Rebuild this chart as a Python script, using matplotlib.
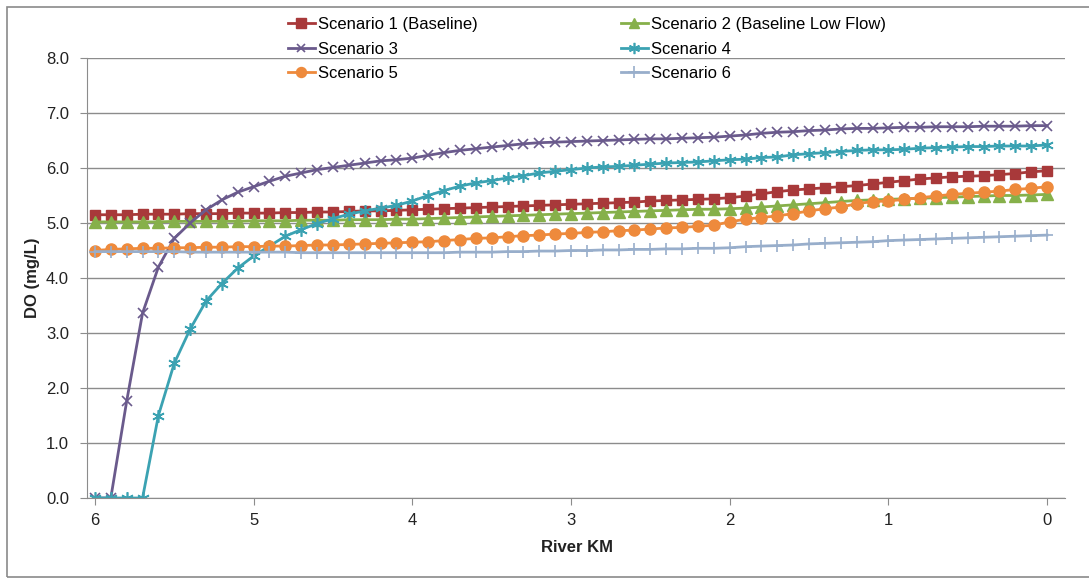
import matplotlib.pyplot as plt
from matplotlib.patches import Rectangle

plt.rcParams['font.family'] = ['Liberation Sans', 'DejaVu Sans']
plt.rcParams['font.size'] = 12

# river km, upstream (6) to downstream (0)
km = [6.0, 5.9, 5.8, 5.7, 5.6, 5.5, 5.4, 5.3, 5.2, 5.1,
      5.0, 4.9, 4.8, 4.7, 4.6, 4.5, 4.4, 4.3, 4.2, 4.1,
      4.0, 3.9, 3.8, 3.7, 3.6, 3.5, 3.4, 3.3, 3.2, 3.1,
      3.0, 2.9, 2.8, 2.7, 2.6, 2.5, 2.4, 2.3, 2.2, 2.1,
      2.0, 1.9, 1.8, 1.7, 1.6, 1.5, 1.4, 1.3, 1.2, 1.1,
      1.0, 0.9, 0.8, 0.7, 0.6, 0.5, 0.4, 0.3, 0.2, 0.1,
      0.0]

s1 = [5.15, 5.15, 5.15, 5.16, 5.16, 5.16, 5.17, 5.17, 5.17, 5.18,
      5.18, 5.18, 5.19, 5.19, 5.20, 5.20, 5.21, 5.22, 5.22, 5.23,
      5.24, 5.25, 5.26, 5.27, 5.28, 5.29, 5.30, 5.31, 5.32, 5.33,
      5.34, 5.35, 5.36, 5.37, 5.38, 5.40, 5.41, 5.42, 5.43, 5.44,
      5.46, 5.49, 5.53, 5.57, 5.60, 5.62, 5.64, 5.66, 5.68, 5.71,
      5.74, 5.77, 5.80, 5.82, 5.84, 5.85, 5.86, 5.88, 5.90, 5.93,
      5.95]
s2 = [5.02, 5.02, 5.02, 5.02, 5.02, 5.03, 5.03, 5.03, 5.03, 5.03,
      5.04, 5.04, 5.04, 5.05, 5.05, 5.05, 5.06, 5.06, 5.06, 5.07,
      5.07, 5.08, 5.09, 5.10, 5.11, 5.12, 5.13, 5.14, 5.15, 5.16,
      5.17, 5.18, 5.19, 5.20, 5.21, 5.22, 5.23, 5.24, 5.25, 5.25,
      5.26, 5.27, 5.29, 5.31, 5.33, 5.35, 5.37, 5.39, 5.41, 5.42,
      5.43, 5.44, 5.45, 5.46, 5.47, 5.48, 5.49, 5.50, 5.50, 5.51,
      5.52]
s3 = [0.00, 0.00, 1.76, 3.36, 4.20, 4.72, 5.00, 5.24, 5.42, 5.56,
      5.66, 5.76, 5.85, 5.91, 5.97, 6.01, 6.05, 6.09, 6.13, 6.15,
      6.18, 6.23, 6.28, 6.32, 6.35, 6.38, 6.41, 6.44, 6.46, 6.47,
      6.48, 6.49, 6.50, 6.51, 6.52, 6.53, 6.53, 6.54, 6.55, 6.56,
      6.58, 6.60, 6.63, 6.65, 6.66, 6.68, 6.69, 6.71, 6.72, 6.72,
      6.73, 6.74, 6.74, 6.75, 6.75, 6.75, 6.76, 6.76, 6.76, 6.77,
      6.77]
s4 = [0.00, 0.00, 0.00, 0.00, 1.50, 2.45, 3.07, 3.58, 3.90, 4.18,
      4.40, 4.58, 4.76, 4.88, 4.99, 5.08, 5.16, 5.22, 5.27, 5.32,
      5.40, 5.50, 5.59, 5.67, 5.73, 5.77, 5.82, 5.86, 5.91, 5.94,
      5.97, 6.00, 6.02, 6.03, 6.05, 6.07, 6.09, 6.10, 6.11, 6.13,
      6.15, 6.16, 6.19, 6.20, 6.24, 6.26, 6.28, 6.30, 6.32, 6.33,
      6.33, 6.34, 6.36, 6.37, 6.38, 6.39, 6.39, 6.40, 6.40, 6.40,
      6.42]
s5 = [4.50, 4.52, 4.53, 4.54, 4.54, 4.55, 4.55, 4.56, 4.56, 4.57,
      4.57, 4.58, 4.58, 4.59, 4.60, 4.60, 4.61, 4.62, 4.63, 4.64,
      4.65, 4.66, 4.68, 4.70, 4.72, 4.73, 4.75, 4.77, 4.78, 4.80,
      4.81, 4.83, 4.84, 4.86, 4.87, 4.89, 4.91, 4.92, 4.94, 4.96,
      5.02, 5.07, 5.10, 5.13, 5.17, 5.22, 5.26, 5.29, 5.35, 5.39,
      5.40, 5.43, 5.46, 5.49, 5.52, 5.54, 5.56, 5.58, 5.61, 5.63,
      5.66]
s6 = [4.48, 4.48, 4.48, 4.48, 4.48, 4.48, 4.47, 4.47, 4.47, 4.47,
      4.47, 4.47, 4.47, 4.46, 4.46, 4.46, 4.46, 4.46, 4.46, 4.46,
      4.46, 4.46, 4.46, 4.47, 4.47, 4.47, 4.48, 4.48, 4.49, 4.49,
      4.50, 4.50, 4.51, 4.51, 4.52, 4.52, 4.53, 4.53, 4.54, 4.54,
      4.55, 4.57, 4.58, 4.59, 4.60, 4.62, 4.63, 4.64, 4.65, 4.66,
      4.68, 4.69, 4.70, 4.71, 4.72, 4.73, 4.74, 4.75, 4.76, 4.77,
      4.78]

names = ['Scenario 1 (Baseline)', 'Scenario 2 (Baseline Low Flow)', 'Scenario 3',
         'Scenario 4', 'Scenario 5', 'Scenario 6']
x_ticks = [6, 5, 4, 3, 2, 1, 0]
y_ticks = [0, 1, 2, 3, 4, 5, 6, 7, 8]

fig = plt.figure(figsize=(10.89, 5.78), dpi=100)
ax = fig.add_axes([87/1089, 1 - 498/578, (1065 - 87)/1089, (498 - 58)/578])

# border around the whole chart
fig.patches.append(Rectangle((7/1089, 1/578), 1.2, 570/578, transform=fig.transFigure,
                             fill=False, ec='#8a8a8a', lw=1.2))

l1, = ax.plot(km, s1, color='#A8393A', lw=2, marker='s', ms=7.5, label=names[0])
l2, = ax.plot(km, s2, color='#86B04A', lw=2, marker='^', ms=8, label=names[1])
l3, = ax.plot(km, s3, color='#6A5A8C', lw=2, marker='x', ms=7, mew=1.2, label=names[2])
l4, = ax.plot(km, s4, color='#3BA2B2', lw=2, marker=(6, 2, 0), ms=9, mew=1.2, label=names[3])
l5, = ax.plot(km, s5, color='#EE8A3C', lw=2, marker='o', ms=8, label=names[4])
l6, = ax.plot(km, s6, color='#98AECB', lw=2, marker='+', ms=9, mew=1.2, label=names[5])

ax.set_xlim(6.05, -0.113)
ax.set_ylim(0, 8)
ax.set_xticks(x_ticks)
ax.set_yticks(y_ticks)
ax.set_yticklabels([f'{v:.1f}' for v in y_ticks])
ax.grid(axis='y', color='#8c8c8c', lw=1)
ax.set_axisbelow(True)
for s in ['top', 'right']:
    ax.spines[s].set_visible(False)
for s in ['left', 'bottom']:
    ax.spines[s].set_color('#8c8c8c')
ax.tick_params(axis='both', colors='#8c8c8c', labelcolor='#222222', labelsize=12, length=5)
ax.tick_params(axis='y', pad=8)
ax.tick_params(axis='x', pad=6)

fig.text(33/1089, 1 - 278/578, 'DO (mg/L)', rotation=90, ha='center', va='center',
         fontsize=12, fontweight='bold', color='#222222')
fig.text(577/1089, 1 - 547/578, 'River KM', ha='center', va='center',
         fontsize=12, fontweight='bold', color='#222222')

ax.legend([l1, l3, l5, l2, l4, l6], [names[0], names[2], names[4], names[1], names[3], names[5]],
          ncol=2, frameon=False, loc='upper left', bbox_to_anchor=(288/1089, 1 - 17/578),
          bbox_transform=fig.transFigure, borderpad=0, borderaxespad=0, handlelength=1.6,
          handletextpad=0.2, columnspacing=8.6, labelspacing=0.58, fontsize=12,
          markerscale=0.9)

plt.savefig('out.png', dpi=100)
